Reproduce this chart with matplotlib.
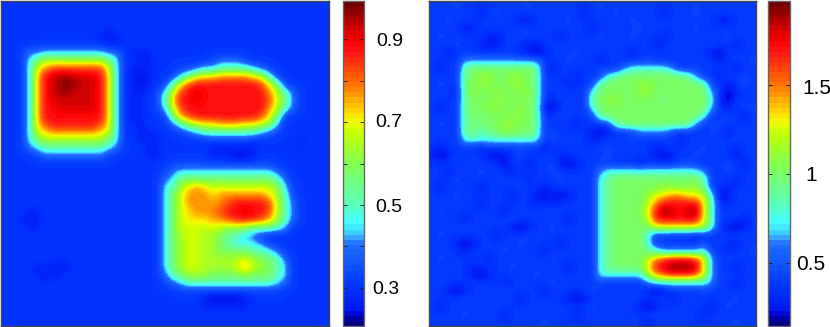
import numpy as np
import matplotlib
matplotlib.use("Agg")
import matplotlib.pyplot as plt
from matplotlib.colors import LinearSegmentedColormap, Normalize
from matplotlib.cm import ScalarMappable

plt.rcParams['font.family'] = ['Liberation Sans', 'DejaVu Sans']

CODES = "abcdefghijklmnop"
LEFT_LEVELS = [.23, .27, .305, .33, .39, .45, .52, .58, .64, .68, .72, .77, .83, .88, .92, .96]
RIGHT_LEVELS = [.16, .27, .38, .44, .60, .78, .92, 1.02, 1.10, 1.20, 1.30, 1.45, 1.60, 1.70, 1.80, 1.93]
LEFT_LIMITS = (0.208, 0.992)
RIGHT_LIMITS = (0.146, 1.97)
LEFT_TICKS = [.3, .4, .5, .6, .7, .8, .9]
RIGHT_TICKS = [.5, 1, 1.5]
LEFT_LABELS = ["0.3", "0.5", "0.7", "0.9"]
RIGHT_LABELS = ["0.5", "1", "1.5"]

LEFT_ROWS = [
 "ccccccccccccccccccccccccccccccccccccccccc",
 "ccccccccccccccccccccccccccccccccccccccccc",
 "ccccccccccccccccccccccccccccccccccccccccc",
 "cccccccccccccbccccccccccccccccccccccccccc",
 "ccccccccccccbbbcccccccccccccccccccccccccc",
 "cccccccccccccbbcccccccccccccccccccccccccc",
 "ccceeffffffffeecbbbcccccccccccccccccccccc",
 "ccc" + "fhiiiiiiiihf" + "ccbbc" + "ccccccdeeedcccccc" + "cccc",
 "ccc" + "fjlmmmmmmmjf" + "cbbbc" + "ccddeffggggfedccc" + "cccc",
 "ccc" + "fknoppooonkf" + "cbabc" + "cdfhjkkllllkjgdcc" + "cccc",
 "ccc" + "fknopppoonkf" + "cbabc" + "dgkmnnnnnnnnmkhdc" + "cccc",
 "ccc" + "fknoppooonkf" + "cbbcd" + "fjmnonnnnnnnnljge" + "cccc",
 "ccc" + "fknoooooonkf" + "cbbcd" + "gknnonnnnnnnnmjhe" + "cccc",
 "ccc" + "fknnooooonkf" + "cbbcd" + "fjmnnnnnnnnnnljge" + "cccc",
 "ccc" + "fknnnnnnnnkf" + "cbbcc" + "dhlmnnnnnnnnmkhdc" + "cccc",
 "ccc" + "fkmnnnnnnmkf" + "cbbcc" + "cegijkklllkkjifcc" + "cccc",
 "ccc" + "fjkllllllkjf" + "ccbbc" + "ccdefgggggggfedcc" + "cccc",
 "ccc" + "fhiiiiiiiihf" + "ccbbb" + "ccccccdddddcccccc" + "bccc",
 "ccc" + "efggggggggfe" + "cccbb" + "ccccccbbbbbbccccc" + "bccc",
 "ccc" + "cdeeeeeeeedc" + "cccbb" + "ccccccbbbaabccccc" + "cccc",
 "cccccccccccccccccccc" + "cdddddddddddddccc" + "cccc",
 "cccccccccccccccccccc" + "deffffffffffffecc" + "cccc",
 "cccccccccccccccccccc" + "efhhhhhhhhhhhhgec" + "cccc",
 "cccccccccccccccccccc" + "fgiklkjjjjjjjjifd" + "cccc",
 "cccccccccccccccccccc" + "fhjlllkllllllkigd" + "cccc",
 "cccccccccccccccccccc" + "fhjlllllmnnnnmjge" + "cccc",
 "cccbbccccccccccccccc" + "fhjklllmnnonnmjge" + "cccc",
 "ccbbbccccccccccccccc" + "fhjkkkllmnnnmlige" + "cccc",
 "cccbbccccccccccccccc" + "fhjjjjjjiiihhhgfc" + "cccc",
 "cccccccccccccccccccc" + "fhijjiihggfedcccc" + "cccc",
 "cccccccccccccccccccc" + "fhijjiihgfffedccc" + "cccc",
 "cccccccccccccccccccc" + "fhijjiihhhhggfecc" + "cccc",
 "cccccccbcccccccccccc" + "fhijjiiiiijihhgec" + "cccc",
 "ccccbbbbbccccccccccc" + "fhijjiiiijljihgfc" + "cccc",
 "ccccbbbbcccccccccccc" + "eghiiihhhhihhhgfc" + "cccc",
 "cccccbcccccccccccccc" + "defgggggggggggfec" + "cccc",
 "cccccccccccccccccccc" + "ccdddddddddddddcc" + "cccc",
 "cccccccccccccccccccc" + "cccccbaaaabcccccc" + "cccc",
 "cccccccccccccccccccc" + "cccccbbbbbbcccccc" + "cccc",
 "ccccccccccccccccccccccccccccccccccccccccc",
 "ccccccccccccccccccccccccccccccccccccccccc",
]

RIGHT_ROWS = [
 "cccdccccccccdccccccccdcccccccccccdccccccc",
 "ccccccbcdccccccccccbcccdcccccbcccdccccccc",
 "ccdccccccccbbccccdcccccccdccccccccccbbccc",
 "ccccbbcccccdccccccccbcccccdccccccdccccccc",
 "cdcccccbbcccdcccbccccdcccdcccbcccccccdccc",
 "cccdccbbbcccbbccdcccccccccccbccccccdccbcc",
 "ccbccccccccbb" + "a" + "bcccdccccccbcccccccccb" + "a" + "cccc",
 "cccc" + "eeeeeeeeee" + "cccdcccbcccccdccccccccbcccd",
 "cbcc" + "ghhhhhhhhg" + "cbcccccdcc" + "efffffe" + "ccdccccbcc",
 "cccc" + "ghiihhiihg" + "ccccbccd" + "fghhhhhhhhg" + "e" + "ccbccdc",
 "cdcc" + "hhiihhiihg" + "cccbccd" + "ghhhhiihhhhhhg" + "dc" + "b" + "cdc",
 "cccb" + "gihhihhiig" + "ccdccc" + "fhhhhhiihhhhhhhe" + "c" + "a" + "bcc",
 "cccc" + "ghhhiihhhg" + "cbcccc" + "ghiihhhhhghhhhhf" + "b" + "a" + "ccc",
 "cbcc" + "ghhiihhihg" + "b" + "a" + "cccc" + "fhhhhhhhhhhhhhhe" + "cbccd",
 "cccc" + "ghghhhiihg" + "ccdcccd" + "ghhhhhhhhhhhh" + "f" + "ccdcbc",
 "cdcc" + "gghhhiihhg" + "ccccbcccd" + "ghhhhhhhhhe" + "ccdcccc",
 "cccc" + "ghfghiihhg" + "cdccccb" + "a" + "bcc" + "deeeed" + "ccccdc" + "b" + "ccc",
 "cccc" + "ffffffffff" + "cdccccbccccdcccccbccccccdcc",
 "cbccccbccccdccbcccccccdcccccbcccccdcccbcc",
 "bab" + "cccc" + "bab" + "cdccccbcccccdccccc" + "bab" + "ccdccccbcc",
 "cccdccccc" + "a" + "ccbccdb" + "a" + "bccdccccbccccddccccdcbc",
 "ccbcccdcccbccccdccccc" + "e" + "ffffffffffff" + "e" + "ccdccc",
 "cccdccccccccbcccdcccc" + "f" + "ghhhhhhhhhhh" + "g" + "cccbcc",
 "cbccccbccccdccbcccccc" + "f" + "ghhhhhhiihii" + "g" + "ccbccc",
 "cccdccccccbcc" + "b" + "a" + "b" + "a" + "bccc" + "f" + "ghhhh" + "i" + "kkllkk" + "j" + "f" + "a" + "bccc",
 "ccccccbccccccbcbccccc" + "f" + "ghhhh" + "j" + "l" + "nnnnn" + "k" + "f" + "cbccc",
 "cdcccccccbcccccdccccc" + "f" + "ghhhh" + "k" + "n" + "ponop" + "k" + "f" + "ccdcc",
 "ccccbcccccdccccccbccc" + "f" + "ghhhh" + "j" + "n" + "nonon" + "k" + "f" + "cccbc",
 "ccccdccccc" + "bab" + "ccdccccc" + "f" + "ghhhh" + "h" + "k" + "kkkkk" + "j" + "f" + "c" + "b" + "a" + "bc",
 "cdccccccbcccdcccccccc" + "f" + "ghhhh" + "f" + "cdcccbcccccdc",
 "ccc" + "b" + "a" + "b" + "cccccdccccbcccc" + "f" + "ghhhh" + "f" + "ccccccdcccbcc",
 "cccc" + "b" + "ccccdccccbcccccc" + "f" + "ghhhh" + "g" + "feeeeef" + "ccbccd",
 "cdcccccbcccccccdccccc" + "f" + "ghhhh" + "j" + "l" + "mnnnm" + "k" + "e" + "cdccc",
 "cccccbccccdccccccbccc" + "f" + "ghhhh" + "k" + "n" + "opppo" + "k" + "e" + "ccbcc",
 "ccccc" + "bab" + "cccccdccccccc" + "f" + "fffff" + "j" + "l" + "mnnnm" + "k" + "e" + "cdccc",
 "cdcccccccbcccccdcccccdccccc" + "efffffffe" + "ccbcc",
 "cc" + "bab" + "ccccdccccbcccccdcccccc" + "bab" + "ccccdcccc",
 "ccccdccccccbcccccb" + "a" + "bcccccdccccbcccccccd",
 "cbccccccdcccccccccccdccccc" + "bab" + "ccccccbcdcc",
 "ccccdccccbccccccccbcccccccccdcccccbcccccc",
 "ccccccccccccccdccccccccccccbccccccccccdcc",
]

CMAP_STOPS = [0.0, .03, .035, .11, .20, .25, .265, .29, .32, .37, .50, .60, .63, .66, .74, .85, .88, .93, 1.0]
CMAP_COLORS = ["#000082", "#0000c8", "#0014f0", "#0032ff", "#145aff", "#1e6eff", "#3c96ff",
               "#3cdcff", "#46ffff", "#5affbe", "#82ff50", "#c8ff00", "#f0ff00", "#ffdc00",
               "#ff7800", "#ff1414", "#ff0000", "#c80000", "#6e0000"]


def decode(rows, levels):
    table = dict(zip(CODES, levels))
    return np.array([[table[ch] for ch in row[:41].ljust(41, "c")] for row in rows])


W, H = 830, 327
cmap = LinearSegmentedColormap.from_list("mapjet", list(zip(CMAP_STOPS, CMAP_COLORS)), N=64)


def box(x0, x1, y0, y1):
    return [x0 / W, 1 - y1 / H, (x1 - x0) / W, (y1 - y0) / H]


fig = plt.figure(figsize=(W / 100, H / 100), dpi=100, facecolor="white")


def panel(rows, levels, limits, ticks, img_box, bar_box):
    norm = Normalize(*limits)
    ax = fig.add_axes(box(*img_box))
    ax.imshow(decode(rows, levels), cmap=cmap, norm=norm, interpolation="bicubic", aspect="auto")
    ax.set_xticks([])
    ax.set_yticks([])
    cax = fig.add_axes(box(*bar_box))
    bar = fig.colorbar(ScalarMappable(norm=norm, cmap=cmap), cax=cax)
    bar.set_ticks(ticks)
    bar.set_ticklabels([])
    bar.minorticks_off()
    cax.tick_params(left=True, right=True, direction="in", length=3, width=0.7, color="#222222")
    for a, colour in ((ax, "#444444"), (cax, "#666666")):
        for s in a.spines.values():
            s.set_color(colour)
            s.set_linewidth(1.0)


panel(LEFT_ROWS, LEFT_LEVELS, LEFT_LIMITS, LEFT_TICKS, (1, 329, 1, 326), (343, 364, 1, 326))
panel(RIGHT_ROWS, RIGHT_LEVELS, RIGHT_LIMITS, RIGHT_TICKS, (429, 756, 1, 326), (768, 790, 1, 326))

for label, x, y in zip(LEFT_LABELS, [372, 375, 375, 376], [290, 208, 122, 42]):
    fig.text(x / W, 1 - y / H, label, fontsize=14, ha="left", va="center", color="black")
for label, x, y in zip(RIGHT_LABELS, [796, 805, 802], [264, 175, 88]):
    fig.text(x / W, 1 - y / H, label, fontsize=15, ha="left", va="center", color="black")

fig.savefig("out.png", dpi=100, facecolor="white")
